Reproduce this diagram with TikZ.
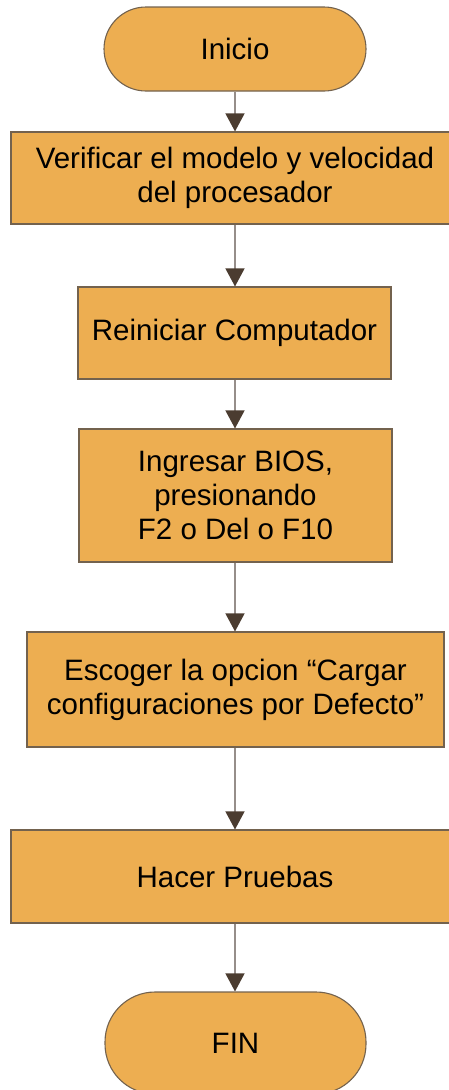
\documentclass[tikz,border=0pt]{standalone}
\usepackage{fontspec}
\setmainfont{Liberation Sans}
\usetikzlibrary{arrows.meta}
\definecolor{boxfill}{RGB}{237,174,81}
\definecolor{boxline}{RGB}{115,98,78}
\definecolor{arrline}{RGB}{150,142,138}
\definecolor{arrhead}{RGB}{75,60,48}
\tikzset{
  stepbox/.style={draw=boxline, fill=boxfill, line width=1.1pt, rectangle, inner sep=0pt,
    align=center, font=\fontsize{29.5}{34}\selectfont, text=black},
  term/.style={stepbox, rounded corners=#1},
  conn/.style={draw=arrline, line width=1.3pt,
    -{Triangle[width=19pt,length=18pt,fill=arrhead,color=arrhead]}}
}
\begin{document}
\begin{tikzpicture}[x=1pt,y=-1pt]
\useasboundingbox (0,0) rectangle (449,1090);
\node[term=42pt, minimum width=262pt, minimum height=84pt] (start) at (235,49) {Inicio};
\node[stepbox, minimum width=448pt, minimum height=92pt] (b1) at (235,178) {Verificar el modelo y velocidad\\del procesador};
\node[stepbox, minimum width=313pt, minimum height=92pt] (b2) at (234.5,333) {Reiniciar Computador};
\node[stepbox, minimum width=313pt, minimum height=133pt] (b3) at (235.5,495.5) {Ingresar BIOS,\\presionando\\F2 o Del o F10};
\node[stepbox, minimum width=417pt, minimum height=115pt] (b4) at (235.5,689.5) {Escoger la opcion “Cargar\\configuraciones por Defecto”};
\node[stepbox, minimum width=448pt, minimum height=93pt] (b5) at (235,876.5) {Hacer Pruebas};
\node[term=50pt, minimum width=261pt, minimum height=102pt] (fin) at (235.5,1043) {FIN};
\coordinate (ax) at (235,0);
\draw[conn] (start.south -| ax) -- (b1.north -| ax);
\draw[conn] (b1.south -| ax) -- (b2.north -| ax);
\draw[conn] (b2.south -| ax) -- (b3.north -| ax);
\draw[conn] (b3.south -| ax) -- (b4.north -| ax);
\draw[conn] (b4.south -| ax) -- (b5.north -| ax);
\draw[conn] (b5.south -| ax) -- (fin.north -| ax);
\end{tikzpicture}
\end{document}
